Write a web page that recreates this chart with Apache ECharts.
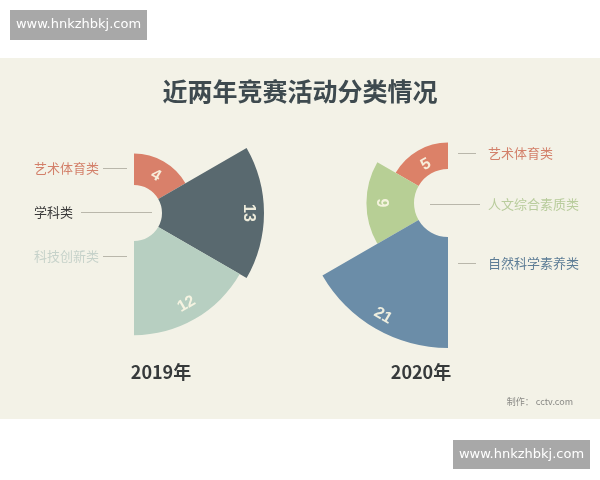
<!DOCTYPE html>
<html>
<head>
<meta charset="utf-8">
<script src="https://cdn.jsdelivr.net/npm/echarts@6/dist/echarts.min.js"></script>
<style>
html,body{margin:0;padding:0;background:#ffffff;}
#main{width:600px;height:480px;}
</style>
</head>
<body>
<div id="main"></div>
<script>
// ---- data ----
var titleText = '近两年竞赛活动分类情况';
var years = ['2019年', '2020年'];
var categories2019 = ['艺术体育类', '学科类', '科技创新类'];
var values2019 = [4, 13, 12];
var categories2020 = ['艺术体育类', '人文综合素质类', '自然科学素养类'];
var values2020 = [5, 9, 21];
var credit = '制作： cctv.com';
var watermark = 'www.hnkzhbkj.com';

// ---- styles ----
var colors2019 = ['#d9806a', '#59696f', '#b7cfc1'];
var colors2020 = ['#dc8168', '#b7cf95', '#6b8da8'];
var labelRotateDeg2019 = [-30, -90, 30];
var labelRotateDeg2020 = [30, -90, -30];
var labelDistance2019 = [8, 8, 25];
var labelDistance2020 = [8, 23, 23];
var labelTextColors2019 = ['#d3806a', '#3a3a3a', '#c6d2ca'];
var labelTextColors2020 = ['#d3806a', '#b8cc9c', '#5d7d96'];
var valueLabelColor = 'rgba(250,246,228,0.92)';
var lineColor = '#b9b7ab';
var font = '"Noto Sans CJK SC", "Noto Sans", sans-serif';

var chart = echarts.init(document.getElementById('main'), null, {renderer: 'canvas'});

function barSeries(idx, values, colors, rotatesDeg, distances) {
  return {
    type: 'bar',
    coordinateSystem: 'polar',
    polarIndex: idx,
    angleAxisIndex: idx,
    radiusAxisIndex: idx,
    silent: true,
    barCategoryGap: '0%',
    label: {
      show: true,
      position: 'insideEnd',
      distance: 8,
      formatter: '{c}',
      color: valueLabelColor,
      fontSize: 16,
      fontWeight: 'bold',
      fontFamily: '"Liberation Sans", Arial, sans-serif'
    },
    emphasis: {disabled: true},
    data: values.map(function (v, i) {
      return {
        value: v,
        itemStyle: {color: colors[i]},
        label: {rotate: rotatesDeg[i] * Math.PI / 180, distance: distances[i]}
      };
    })
  };
}
function hiddenAxis(o) {
  o.axisLine = {show: false};
  o.axisTick = {show: false};
  o.axisLabel = {show: false};
  o.splitLine = {show: false};
  o.splitArea = {show: false};
  return o;
}

var graphics = [];
graphics.push({type: 'rect', shape: {x: 0, y: 58, width: 600, height: 361}, style: {fill: '#f3f2e7'}, z: -10});
graphics.push({type: 'rect', shape: {x: 10, y: 10, width: 137, height: 30}, style: {fill: '#a8a8a8'}, z: 10});
graphics.push({type: 'text', x: 78.5, y: 25, style: {text: watermark, fill: '#ffffff', font: '13px "DejaVu Sans", sans-serif', textAlign: 'center', textVerticalAlign: 'middle'}, z: 11});
graphics.push({type: 'rect', shape: {x: 453, y: 440, width: 137, height: 29}, style: {fill: '#a8a8a8'}, z: 10});
graphics.push({type: 'text', x: 521.5, y: 454.5, style: {text: watermark, fill: '#ffffff', font: '13px "DejaVu Sans", sans-serif', textAlign: 'center', textVerticalAlign: 'middle'}, z: 11});

var leftLabelY = [168, 212, 256];
var leftLine = [[103, 127], [81, 152], [103, 127]];
categories2019.forEach(function (n, i) {
  graphics.push({type: 'text', x: 34, y: leftLabelY[i], style: {text: n, fill: labelTextColors2019[i], font: '13px ' + font, textAlign: 'left', textVerticalAlign: 'middle'}});
  graphics.push({type: 'line', shape: {x1: leftLine[i][0], y1: leftLabelY[i] + 0.5, x2: leftLine[i][1], y2: leftLabelY[i] + 0.5}, style: {stroke: lineColor, lineWidth: 1}});
});
var rightLabelY = [153, 204, 263];
var rightLine = [[458, 476], [430, 480], [458, 476]];
categories2020.forEach(function (n, i) {
  graphics.push({type: 'text', x: 488, y: rightLabelY[i], style: {text: n, fill: labelTextColors2020[i], font: '13px ' + font, textAlign: 'left', textVerticalAlign: 'middle'}});
  graphics.push({type: 'line', shape: {x1: rightLine[i][0], y1: rightLabelY[i] + 0.5, x2: rightLine[i][1], y2: rightLabelY[i] + 0.5}, style: {stroke: lineColor, lineWidth: 1}});
});
var yearX = [161, 421];
years.forEach(function (y, i) {
  graphics.push({type: 'text', x: yearX[i], y: 372, style: {text: y, fill: '#363a3b', font: 'bold 18px ' + font, textAlign: 'center', textVerticalAlign: 'middle'}});
});
graphics.push({type: 'text', x: 573, y: 402, style: {text: credit, fill: '#8a8a86', font: '9px ' + font, textAlign: 'right', textVerticalAlign: 'middle'}});

var option = {
  backgroundColor: '#ffffff',
  animation: false,
  title: {
    text: titleText,
    left: 'center',
    top: 79,
    padding: 0,
    textStyle: {fontSize: 25, fontWeight: 'bold', color: '#3e4a4f', fontFamily: font}
  },
  graphic: {elements: graphics},
  polar: [
    {center: [134, 213], radius: [28, 130]},
    {center: [448, 203], radius: [34, 145]}
  ],
  angleAxis: [
    hiddenAxis({polarIndex: 0, type: 'category', data: categories2019, startAngle: 90, endAngle: -90, clockwise: true}),
    hiddenAxis({polarIndex: 1, type: 'category', data: categories2020, startAngle: 90, endAngle: 270, clockwise: false})
  ],
  radiusAxis: [
    hiddenAxis({polarIndex: 0, type: 'value', min: 0, max: Math.max.apply(null, values2019)}),
    hiddenAxis({polarIndex: 1, type: 'value', min: 0, max: Math.max.apply(null, values2020)})
  ],
  series: [
    barSeries(0, values2019, colors2019, labelRotateDeg2019, labelDistance2019),
    barSeries(1, values2020, colors2020, labelRotateDeg2020, labelDistance2020)
  ]
};
chart.setOption(option);
</script>
</body>
</html>
